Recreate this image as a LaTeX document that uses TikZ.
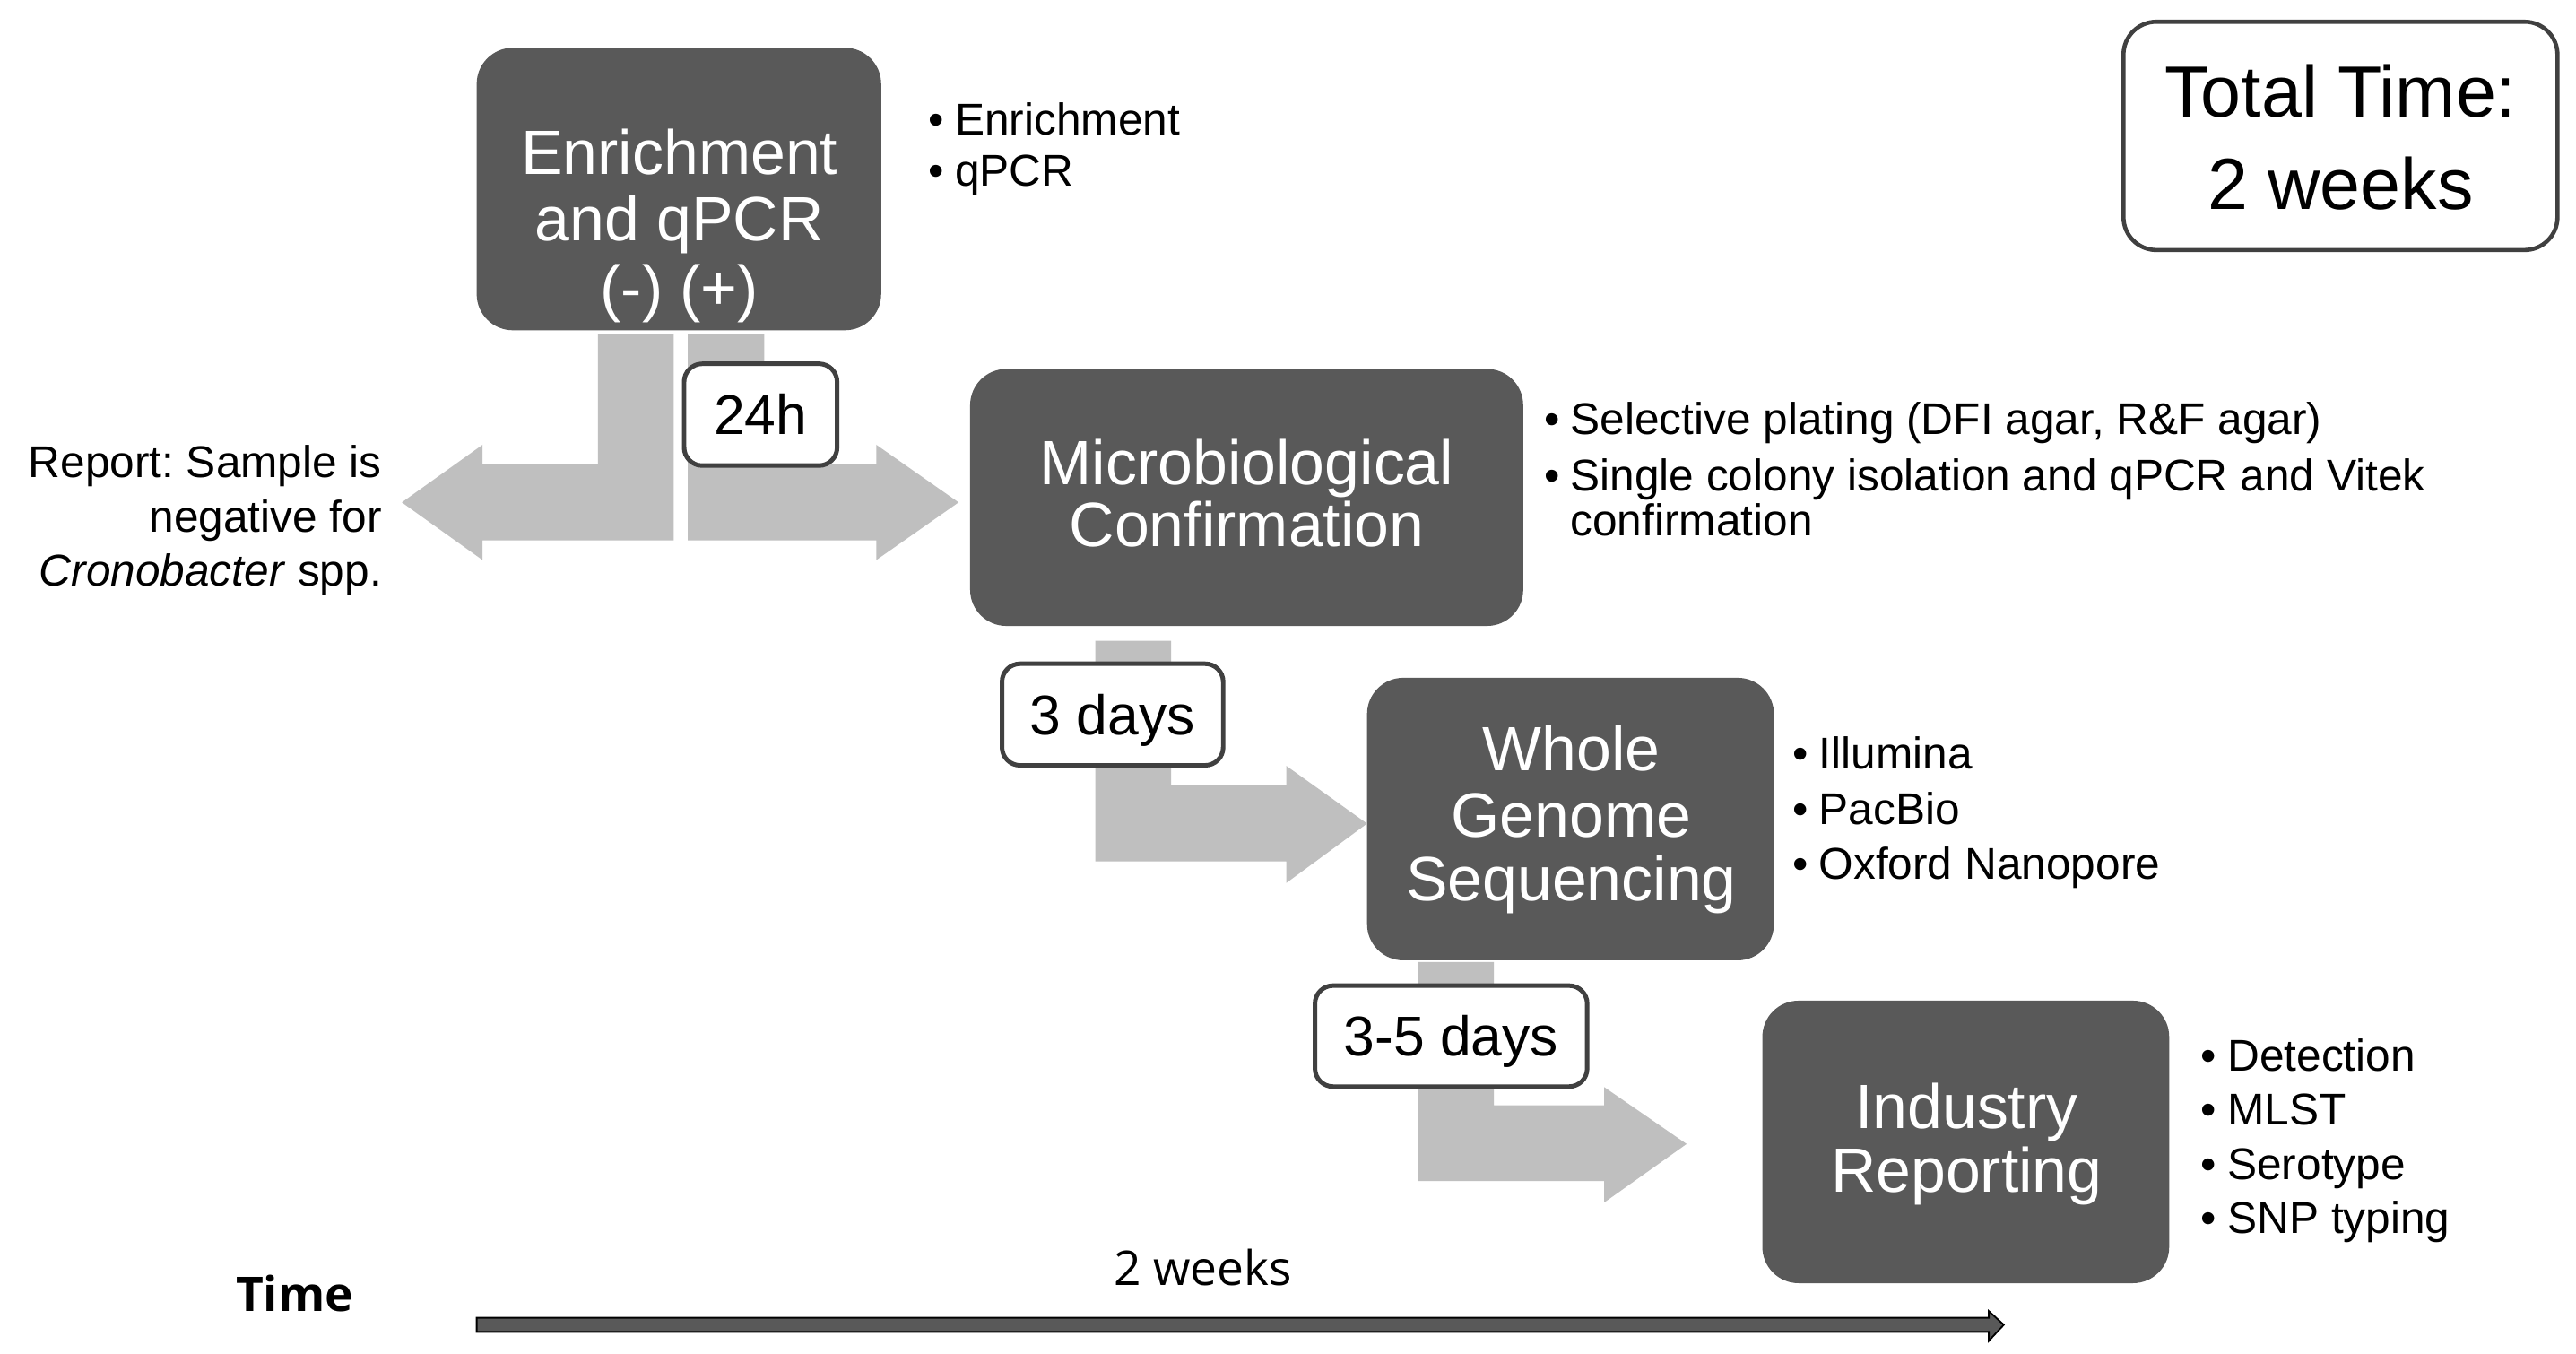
\documentclass[tikz,border=0pt]{standalone}
\usepackage{fontspec}
\setmainfont{Liberation Sans}
\newfontfamily\osans{Open Sans}
\definecolor{boxgray}{HTML}{595959}
\definecolor{arrgray}{HTML}{BFBFBF}
\definecolor{edgegray}{HTML}{404040}
\newcommand{\bitem}[1]{\makebox[16pt][l]{\textbullet}#1}
\frenchspacing
\begin{document}
\begin{tikzpicture}[x=1pt,y=-1pt,
  stagebox/.style={fill=boxgray, draw=none, rounded corners=22pt, inner sep=0pt},
  stagetxt/.style={text=white, font=\fontsize{38}{40}\selectfont, anchor=base, inner sep=0pt},
  bullettxt/.style={font=\fontsize{27}{30}\selectfont, anchor=base west, inner sep=0pt},
  reporttxt/.style={font=\fontsize{27}{30}\selectfont, anchor=base east, inner sep=0pt},
  labbox/.style={draw=edgegray, line width=2.7pt, fill=white, rounded corners=11pt, inner sep=0pt},
  labtxt/.style={font=\fontsize{34}{40}\selectfont, anchor=base, inner sep=0pt},
  totalbox/.style={draw=edgegray, line width=2.5pt, fill=white, rounded corners=20pt, inner sep=0pt},
  totaltxt/.style={font=\fontsize{44}{50}\selectfont, anchor=base, inner sep=0pt},
  blockarrow/.style={fill=arrgray, draw=none},
  timetxt/.style={font=\osans\fontsize{29}{34}\selectfont, anchor=base west, inner sep=0pt},
]
\fill[white] (0,0) rectangle (1564,822);
\useasboundingbox (0,0) rectangle (1564,822);

% stage boxes
\node[stagebox, minimum width=245.6pt, minimum height=171.5pt] (b1) at (412.2,114.75) {};
\node[stagebox, minimum width=335.8pt, minimum height=156pt] (b2) at (756.9,302) {};
\node[stagebox, minimum width=247pt, minimum height=171.5pt] (b3) at (953.5,497.25) {};
\node[stagebox, minimum width=247pt, minimum height=171.5pt] (b4) at (1193.5,693.25) {};

% stage texts
\node[stagetxt] (t1a) at (412.5,106) {Enrichment};
\node[stagetxt] (t1b) at (412.5,146) {and qPCR};
\node[stagetxt] (t1c) at (412.5,188) {(-) (+)};
\node[stagetxt] (t2a) at (757,294) {Microbiological};
\node[stagetxt] (t2b) at (757,332) {Confirmation};
\node[stagetxt] (t3a) at (954,468) {Whole};
\node[stagetxt] (t3b) at (954,508) {Genome};
\node[stagetxt] (t3c) at (954,547) {Sequencing};
\node[stagetxt] (t4a) at (1194,685) {Industry};
\node[stagetxt] (t4b) at (1194,724) {Reporting};

% block arrows
\path[blockarrow] (363,203) -- (409,203) -- (409,328) -- (293,328) -- (293,340)
  -- (244,305) -- (293,270) -- (293,282) -- (363,282) -- cycle;
\path[blockarrow] (417.6,203) -- (464,203) -- (464,282) -- (532,282) -- (532,270)
  -- (582,305) -- (532,340) -- (532,328) -- (417.6,328) -- cycle;
\path[blockarrow] (665,389) -- (711,389) -- (711,477) -- (781,477) -- (781,465)
  -- (830,500) -- (781,536) -- (781,523) -- (665,523) -- cycle;
\path[blockarrow] (861,584) -- (907,584) -- (907,671) -- (974,671) -- (974,660)
  -- (1024,694.5) -- (974,730) -- (974,717) -- (861,717) -- cycle;

% time labels
\node[labbox, minimum width=92.9pt, minimum height=61.8pt] (l1) at (461.8,251.75) {};
\node[labtxt] (l1t) at (461.8,264) {24h};
\node[labbox, minimum width=134.3pt, minimum height=61.7pt] (l2) at (675.5,433.8) {};
\node[labtxt] (l2t) at (675.5,446) {3 days};
\node[labbox, minimum width=165.3pt, minimum height=61.3pt] (l3) at (881,629) {};
\node[labtxt] (l3t) at (881,641) {3-5 days};

% total time
\node[totalbox, minimum width=263.5pt, minimum height=138.6pt] (tot) at (1421,82.5) {};
\node[totaltxt] (tota) at (1421,71) {Total Time:};
\node[totaltxt] (totb) at (1421,127) {2 weeks};

% report text
\node[reporttxt] (r1) at (232,290) {Report: Sample is};
\node[reporttxt] (r2) at (232,323) {negative for};
\node[reporttxt] (r3) at (232,356) {\textit{Cronobacter} spp.};

% bullets
\node[bullettxt] (s1a) at (563.7,82) {\bitem{Enrichment}};
\node[bullettxt] (s1b) at (563.7,113) {\bitem{qPCR}};
\node[bullettxt] (s2a) at (937.3,264) {\bitem{Selective plating (DFI agar, R\&F agar)}};
\node[bullettxt] (s2b) at (937.3,298) {\bitem{Single colony isolation and qPCR and Vitek}};
\node[bullettxt] (s2c) at (937.3,325) {\makebox[16pt][l]{}confirmation};
\node[bullettxt] (s3a) at (1088.2,467) {\bitem{Illumina}};
\node[bullettxt] (s3b) at (1088.2,500.5) {\bitem{PacBio}};
\node[bullettxt] (s3c) at (1088.2,534) {\bitem{Oxford Nanopore}};
\node[bullettxt] (s4a) at (1336.2,650) {\bitem{Detection}};
\node[bullettxt] (s4b) at (1336.2,683) {\bitem{MLST}};
\node[bullettxt] (s4c) at (1336.2,716) {\bitem{Serotype}};
\node[bullettxt] (s4d) at (1336.2,749) {\bitem{SNP typing}};

% time axis
\node[timetxt, font=\osans\bfseries\fontsize{29}{34}\selectfont] (time) at (143,796) {Time};
\node[timetxt] (weeks) at (676,780.5) {2 weeks};
\coordinate (ts) at (289.4,804.3);
\coordinate (te) at (1216.6,804.3);
\draw[fill=boxgray, draw=black, line width=1pt, line join=miter]
  ([yshift=4.3pt]ts) -- (1207.5,800) -- (1207.5,796) -- (te) -- (1207.5,814)
  -- (1207.5,808.6) -- ([yshift=-4.3pt]ts) -- cycle;
\end{tikzpicture}
\end{document}
